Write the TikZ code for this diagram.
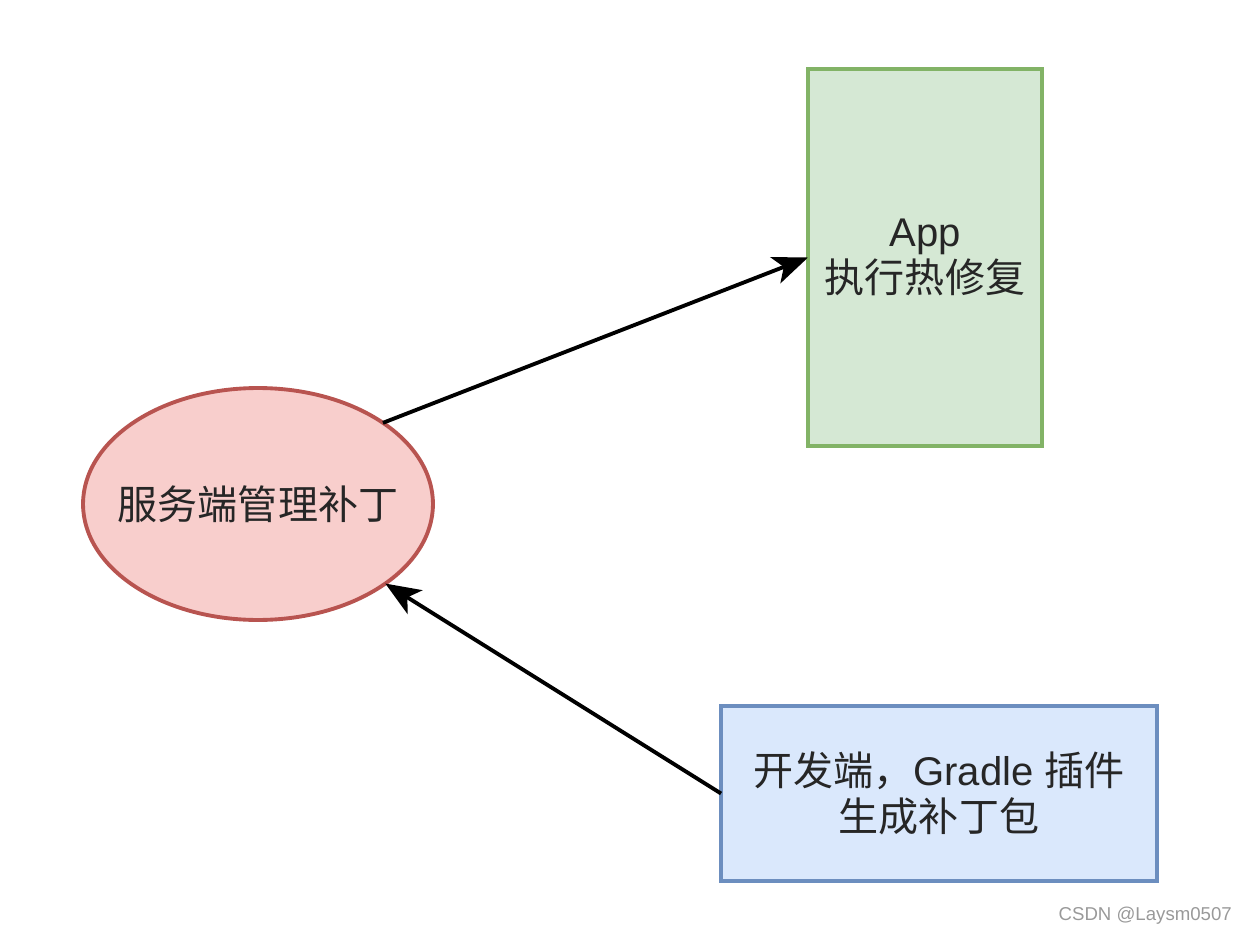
\documentclass[tikz,border=0pt]{standalone}
\usepackage{fontspec}
\setmainfont{Liberation Sans}
\newfontfamily\cjk{Noto Sans CJK SC}
\usetikzlibrary{shapes.geometric,arrows.meta}

\definecolor{srvfill}{HTML}{F8CECC}
\definecolor{srvline}{HTML}{B85450}
\definecolor{appfill}{HTML}{D5E8D4}
\definecolor{appline}{HTML}{82B366}
\definecolor{devfill}{HTML}{DAE8FC}
\definecolor{devline}{HTML}{6C8EBF}
\definecolor{markgray}{HTML}{999999}

\begin{document}
\begin{tikzpicture}[x=0.02cm, y=-0.02cm,
        boxfont/.style={font=\fontsize{22.8}{26}\selectfont},
        box/.style={draw, line width=2.2pt, inner sep=0pt, outer sep=0pt, align=center, boxfont, text=black!85},
        link/.style={-{Stealth[length=0.7cm, width=0.56cm, inset=0.18cm]}, line width=2.2pt}]
        \useasboundingbox (0,0) rectangle (1252,936);

        % server, app and plugin
        \node[box, ellipse, inner xsep=-0.35cm, draw=srvline, fill=srvfill, minimum width=7cm, minimum height=4.64cm] (srv) at (258,504) {\cjk 服务端管理补丁};
        \node[box, draw=appline, fill=appfill, minimum width=4.68cm, minimum height=7.54cm] (app) at (925,257.5) {App\\\cjk 执行热修复};
        \node[box, draw=devline, fill=devfill, minimum width=8.72cm, minimum height=3.5cm] (dev) at (939,793.5) {{\cjk 开发端，}Gradle {\cjk 插件}\\\cjk 生成补丁包};

        % arrows
        \draw[link] (srv.33.5) -- (app.west);
        \draw[link] (dev.west) -- (srv.-32);

        \node[anchor=east, text=markgray, font=\fontsize{10.6}{12}\selectfont] (mark) at (1238,916) {CSDN @Laysm0507};
    \end{tikzpicture}
\end{document}
